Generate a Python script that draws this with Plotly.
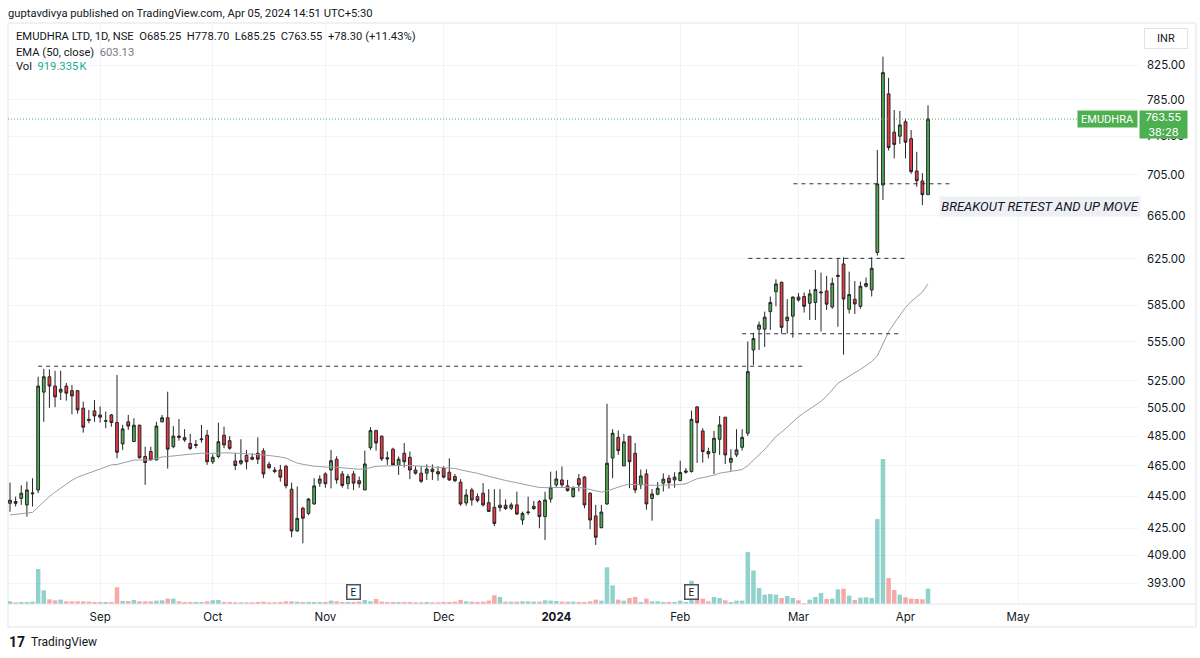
import math
import plotly.graph_objects as go

# ---------------- data ----------------
opens = [440.5, 441.6, 443.6, 439.5, 446.5, 449.0, 516.5, 528.0, 521.0, 516.5,
         521.0, 517.6, 517.6, 504.7, 496.8, 502.8, 499.9, 495.4, 499.9, 494.5,
         479.6, 495.0, 481.2, 492.6, 471.0, 474.4, 468.7, 495.0, 497.9, 477.7,
         485.0, 483.9, 479.9, 478.5, 482.5, 485.6, 467.5, 471.0, 485.6, 481.8,
         468.0, 466.5, 471.8, 470.5, 473.2, 474.8, 465.8, 462.0, 462.0, 464.5,
         449.5, 423.4, 437.4, 434.2, 440.1, 453.4, 459.4, 462.0, 469.2, 459.4,
         453.0, 459.4, 455.0, 449.0, 477.0, 488.8, 484.9, 470.2, 476.0, 465.0,
         473.2, 470.5, 462.0, 459.9, 459.9, 462.6, 460.9, 463.1, 460.5, 457.7,
         454.0, 440.7, 449.0, 444.7, 446.9, 440.9, 438.0, 437.8, 439.3, 437.4,
         439.5, 430.1, 434.6, 437.2, 441.6, 432.2, 443.2, 452.3, 455.5, 451.6,
         444.7, 456.3, 457.4, 446.9, 432.6, 425.4, 440.1, 470.0, 484.1, 464.7,
         484.9, 473.2, 452.3, 459.4, 443.6, 446.3, 453.4, 456.6, 455.5, 455.0,
         460.5, 461.0, 505.7, 488.6, 474.4, 473.7, 482.8, 498.3, 467.2, 472.1,
         477.3, 487.0, 548.6, 565.2, 565.2, 579.6, 596.4, 604.4, 572.2, 575.8,
         591.8, 592.3, 586.6, 587.2, 595.3, 597.0, 583.5, 609.5, 620.5, 581.6,
         589.9, 584.0, 601.0, 597.8, 630.8, 694.8, 791.6, 749.4, 745.1, 760.6,
         742.4, 708.9, 698.8, 685.25]
highs = [453.7, 444.7, 452.0, 454.4, 456.6, 528.0, 534.0, 533.6, 532.5, 532.5,
         523.3, 521.8, 518.1, 509.5, 503.5, 510.7, 506.0, 502.3, 500.6, 529.3,
         492.8, 499.9, 497.5, 493.0, 477.7, 477.7, 495.0, 499.9, 516.8, 492.0,
         497.0, 489.8, 486.5, 482.3, 492.8, 489.3, 472.5, 494.4, 491.6, 485.0,
         473.2, 482.8, 475.5, 473.2, 484.1, 476.6, 467.5, 464.0, 465.4, 465.4,
         453.7, 451.2, 438.3, 443.8, 456.6, 458.5, 460.5, 475.5, 471.2, 461.3,
         459.4, 461.3, 457.7, 475.0, 491.2, 489.5, 485.5, 474.4, 477.0, 471.0,
         480.2, 474.4, 464.5, 464.5, 465.7, 465.7, 464.5, 464.5, 469.8, 459.4,
         456.0, 449.5, 450.4, 446.8, 453.4, 449.5, 449.5, 449.5, 443.0, 441.0,
         447.9, 435.3, 444.7, 442.0, 442.6, 447.9, 460.9, 461.5, 464.3, 455.5,
         451.4, 459.4, 458.0, 447.5, 439.5, 439.5, 508.0, 489.8, 488.8, 486.5,
         485.0, 480.2, 462.3, 462.5, 449.5, 454.2, 459.8, 458.8, 460.5, 468.2,
         463.3, 503.0, 506.2, 490.5, 477.0, 488.6, 499.2, 498.3, 476.0, 489.8,
         489.8, 555.3, 562.2, 571.4, 579.6, 592.3, 607.0, 605.0, 590.0, 592.3,
         595.3, 595.7, 598.3, 615.2, 612.8, 610.0, 608.4, 625.6, 626.5, 613.7,
         605.5, 605.0, 608.5, 626.5, 730.5, 834.9, 810.0, 773.5, 772.5, 764.3,
         751.7, 728.6, 706.7, 778.7]
lows = [435.2, 438.5, 439.5, 432.2, 438.5, 447.0, 495.0, 505.0, 505.5, 510.7,
        510.2, 500.3, 500.8, 487.4, 494.0, 495.0, 494.5, 490.5, 491.6, 469.8,
        475.5, 489.3, 481.0, 469.6, 452.3, 468.5, 468.5, 494.5, 463.0, 476.6,
        481.8, 481.0, 475.5, 476.6, 480.5, 465.4, 466.0, 469.8, 476.6, 475.5,
        462.0, 465.4, 462.5, 468.5, 466.0, 456.6, 462.5, 459.8, 454.4, 450.0,
        419.6, 423.0, 416.0, 433.0, 439.5, 451.0, 450.4, 450.0, 453.0, 450.5,
        449.5, 449.0, 450.4, 449.0, 475.5, 475.0, 468.0, 465.4, 465.0, 458.8,
        463.7, 456.0, 459.0, 453.5, 455.5, 455.5, 455.0, 456.5, 454.8, 454.0,
        439.0, 439.0, 439.0, 441.0, 438.5, 435.0, 426.4, 435.4, 436.3, 436.3,
        433.2, 427.1, 433.2, 436.3, 425.0, 418.0, 440.9, 450.7, 450.4, 447.9,
        444.2, 448.0, 437.4, 424.5, 415.0, 425.0, 439.5, 456.6, 472.1, 464.7,
        450.1, 446.9, 449.5, 436.5, 429.7, 445.6, 448.0, 449.9, 450.4, 455.0,
        459.6, 460.3, 466.7, 466.9, 469.8, 459.4, 472.1, 466.0, 461.5, 470.7,
        475.0, 485.0, 537.0, 548.6, 551.0, 564.6, 584.0, 561.6, 561.6, 558.4,
        588.0, 578.8, 572.7, 572.7, 563.3, 581.0, 582.0, 567.2, 545.0, 578.0,
        577.6, 582.0, 600.0, 592.3, 628.0, 680.0, 730.0, 721.8, 737.0, 721.8,
        706.0, 693.0, 675.0, 685.25]
closes = [442.5, 440.5, 446.9, 449.0, 447.0, 521.0, 528.0, 521.0, 513.0, 518.6,
          515.7, 513.7, 503.5, 491.2, 496.0, 499.2, 498.3, 495.8, 494.5, 473.9,
          490.0, 492.0, 492.6, 470.2, 467.0, 468.7, 492.0, 497.9, 476.0, 485.0,
          484.1, 482.3, 476.5, 479.2, 483.0, 467.5, 470.5, 481.1, 478.9, 476.6,
          465.0, 468.2, 467.5, 469.2, 469.2, 459.4, 463.6, 461.0, 457.3, 451.7,
          423.4, 431.1, 431.2, 443.2, 451.6, 456.1, 453.0, 468.2, 455.5, 451.9,
          457.7, 453.4, 453.0, 466.0, 488.8, 480.2, 469.4, 469.4, 465.4, 469.2,
          467.5, 462.0, 459.9, 454.6, 462.6, 460.9, 459.4, 457.3, 455.5, 455.0,
          440.1, 445.8, 442.6, 442.2, 439.5, 435.4, 428.0, 439.3, 437.2, 439.5,
          433.8, 434.2, 435.0, 438.6, 432.2, 442.6, 450.7, 456.1, 452.3, 448.6,
          450.1, 452.3, 439.5, 430.1, 419.6, 435.0, 466.5, 487.0, 475.0, 481.0,
          467.5, 449.0, 458.1, 440.1, 446.4, 450.1, 456.0, 453.7, 457.3, 460.3,
          461.3, 496.8, 494.4, 474.4, 472.8, 483.5, 492.8, 472.1, 469.8, 475.5,
          484.1, 531.9, 557.6, 568.6, 575.0, 587.2, 603.0, 566.7, 575.0, 591.8,
          589.3, 584.0, 594.5, 598.3, 596.0, 585.8, 603.6, 610.5, 590.1, 593.9,
          586.0, 601.0, 603.3, 616.7, 695.8, 816.0, 733.0, 736.3, 757.2, 738.7,
          708.2, 699.0, 685.25, 763.55]
volumes_k = [160, 100, 120, 120, 140, 2090, 816, 280, 220, 260,
             160, 160, 160, 160, 140, 120, 120, 120, 120, 1000,
             180, 180, 240, 160, 160, 160, 200, 220, 320, 320,
             160, 120, 120, 120, 120, 160, 220, 240, 120, 120,
             100, 100, 100, 100, 120, 140, 100, 100, 120, 160,
             160, 140, 120, 120, 120, 120, 120, 200, 160, 120,
             120, 120, 140, 240, 160, 300, 140, 120, 120, 120,
             120, 120, 100, 100, 120, 100, 100, 120, 120, 140,
             240, 160, 140, 120, 140, 200, 520, 420, 140, 140,
             140, 160, 160, 140, 140, 220, 200, 180, 140, 140,
             140, 120, 120, 160, 260, 200, 2190, 1110, 260, 200,
             360, 420, 120, 320, 160, 160, 120, 120, 120, 200,
             120, 1390, 300, 320, 160, 420, 360, 220, 120, 200,
             200, 3100, 2000, 955, 560, 600, 560, 360, 480, 360,
             220, 60, 260, 420, 660, 300, 320, 875, 915, 500,
             240, 380, 400, 360, 5070, 8660, 1550, 836, 557, 400,
             320, 300, 280, 919.335]
ema50 = [433.2, 433.5, 433.9, 434.3, 434.8, 438.2, 441.6, 444.8, 447.6, 450.3,
         453.0, 455.3, 457.3, 458.6, 460.0, 461.5, 462.9, 464.2, 465.4, 465.7,
         466.6, 467.6, 468.6, 468.7, 468.7, 468.7, 469.6, 470.7, 471.0, 471.5,
         472.0, 472.4, 472.6, 472.9, 473.3, 473.1, 473.0, 473.3, 473.5, 473.6,
         473.3, 473.1, 472.9, 472.8, 472.7, 472.1, 471.7, 471.3, 470.7, 469.9,
         468.1, 466.6, 465.8, 465.0, 464.5, 464.3, 463.9, 464.1, 463.8, 463.3,
         463.1, 462.8, 462.5, 462.7, 463.7, 464.4, 464.6, 464.8, 464.9, 465.0,
         465.1, 465.0, 464.8, 464.4, 464.3, 464.2, 464.0, 463.7, 463.4, 463.0,
         462.1, 461.4, 460.6, 459.8, 458.8, 457.8, 456.7, 455.8, 455.1, 454.4,
         453.5, 452.7, 452.0, 451.3, 450.6, 450.3, 450.4, 450.6, 450.7, 450.6,
         450.6, 450.6, 450.1, 449.3, 448.1, 447.6, 448.3, 449.8, 450.8, 452.0,
         452.6, 452.5, 452.7, 452.2, 452.0, 451.9, 452.1, 452.1, 452.3, 452.6,
         453.0, 454.7, 456.3, 457.0, 457.6, 458.6, 459.9, 460.5, 460.8, 461.4,
         462.3, 464.9, 468.4, 472.0, 475.9, 480.1, 484.7, 487.8, 491.3, 495.2,
         498.5, 501.5, 504.3, 507.0, 509.7, 513.5, 518.3, 523.0, 525.8, 528.3,
         530.7, 533.6, 536.5, 539.5, 544.0, 553.0, 563.0, 570.0, 577.0, 583.0,
         588.0, 592.0, 596.0, 603.13]

month_labels = ["Sep", "Oct", "Nov", "Dec", "<b>2024</b>", "Feb", "Mar", "Apr", "May"]
month_first_bar = [16, 36, 56, 77, 97, 119, 140, 159, 179]
price_ticks = [393, 409, 425, 445, 465, 485, 505, 525, 555, 585, 625, 665, 705, 745, 785, 825]

# drawn horizontal levels: price, first bar, last bar
level_prices = [536.0, 561.5, 625.5, 696.0]
level_from = [5.0, 130.0, 131.1, 139.1]
level_to = [140.9, 158.1, 159.0, 166.9]
earnings_bars = [61, 121]
last_price = 763.55

# ---------------- geometry ----------------
PL, PR, PT, PB = 8, 1138, 23, 604
BAR_PX = 5.632
FIRST_PX = 10


def xp(px):
    return (px - PL) / (PR - PL)


def yp(py):
    return (PB - py) / (PB - PT)


k = (583 - 65) / math.log(825 / 393)


def price_at(py):
    return 825 * math.exp(-(py - 65) / k)


x_lo = (PL - FIRST_PX) / BAR_PX
x_hi = (PR - FIRST_PX) / BAR_PX
y_lo = math.log10(price_at(PB))
y_hi = math.log10(price_at(PT))
vol_max = 59.7e3 * (PB - PT)

TXT = "#131722"
UP, DN = "#4caf50", "#f23645"
FONT = "Roboto, sans-serif"
TICKFONT = "Inter, Roboto, sans-serif"

idx = list(range(len(closes)))
vol_colors = ["rgba(38,166,154,0.5)" if c >= o else "rgba(239,83,80,0.5)"
              for o, c in zip(opens, closes)]

fig = go.Figure()
fig.add_trace(go.Bar(x=idx, y=[v * 1000 for v in volumes_k], marker_color=vol_colors,
                     marker_line_width=0, width=0.8, yaxis="y", hoverinfo="skip"))
fig.add_trace(go.Scatter(x=idx, y=ema50, mode="lines", line=dict(color="#9c9ea8", width=1),
                         yaxis="y2", hoverinfo="skip"))
fig.add_trace(go.Candlestick(
    x=idx, open=opens, high=highs, low=lows, close=closes, yaxis="y2",
    increasing=dict(line=dict(color="#262626", width=1), fillcolor=UP),
    decreasing=dict(line=dict(color="#262626", width=1), fillcolor=DN),
    whiskerwidth=0, hoverinfo="skip"))
for p, a, b in zip(level_prices, level_from, level_to):
    fig.add_trace(go.Scatter(x=[a, b], y=[p, p], mode="lines", yaxis="y2",
                             line=dict(color="#2a2e39", width=1, dash="4px,4px"),
                             hoverinfo="skip"))
fig.add_trace(go.Scatter(x=[x_lo, (1078 - FIRST_PX) / BAR_PX], y=[last_price, last_price],
                         mode="lines", yaxis="y2",
                         line=dict(color=UP, width=1, dash="1px,2px"), hoverinfo="skip"))

ann = []


def note(text, x, y, size=12, color=TXT, xanchor="left", family=FONT, **kw):
    ann.append(dict(text=text, x=xp(x), y=yp(y), xref="paper", yref="paper",
                    xanchor=xanchor, yanchor="middle", showarrow=False,
                    font=dict(size=size, color=color, family=family), **kw))


note("guptavdivya published on TradingView.com, Apr 05, 2024 14:51 UTC+5:30", 6, 13, 11.2)
note("EMUDHRA LTD, 1D, NSE\u00a0\u00a0O685.25\u00a0\u00a0H778.70\u00a0\u00a0L685.25\u00a0\u00a0C763.55"
     "\u00a0\u00a0+78.30 (+11.43%)", 14, 37, 11.2)
note("EMA (50, close)\u00a0\u00a0<span style='color:#787b86'>603.13</span>", 14, 52, 11.2)
note("Vol\u00a0\u00a0<span style='color:#22ab94'>919.335\u202fK</span>", 14, 67, 11.2)
note("<i>BREAKOUT RETEST AND UP MOVE</i>", 1039.5, 206, 13, xanchor="center",
     bgcolor="#eef0f5", width=198, height=17)
note("EMUDHRA", 1107.5, 119, 11, color="white", xanchor="center", bgcolor=UP,
     width=57, height=14)
note("763.55<br>38:28", 1163.5, 124.5, 11, color="white", xanchor="center", bgcolor=UP,
     width=45, height=25, family=TICKFONT)
note("INR", 1165.5, 38, 11, xanchor="center", bordercolor="#e0e3eb", borderwidth=1,
     width=40, height=17, bgcolor="white")
note("<b>17</b>", 7, 642, 14, color=TXT)
note("TradingView", 29, 642, 12, color=TXT)
for b in earnings_bars:
    ann.append(dict(text="E", x=b, y=yp(592), xref="x", yref="paper", showarrow=False,
                    xanchor="center", yanchor="middle", bgcolor="white",
                    bordercolor="#50535e", borderwidth=1.5, width=10, height=11,
                    font=dict(size=10, color=TXT, family=FONT)))

shapes = [
    dict(type="rect", xref="paper", yref="paper", x0=xp(PL), x1=xp(1196), y0=yp(627), y1=yp(PT),
         line=dict(color="#e0e3eb", width=1), layer="below"),
    dict(type="line", xref="paper", yref="paper", x0=xp(PL), x1=xp(1196), y0=yp(PB), y1=yp(PB),
         line=dict(color="#e0e3eb", width=1)),
]

fig.update_layout(
    width=1200, height=658,
    margin=dict(l=PL, r=1200 - PR, t=PT, b=658 - PB),
    paper_bgcolor="white", plot_bgcolor="white",
    showlegend=False,
    font=dict(family=FONT, color=TXT, size=11),
    xaxis=dict(range=[x_lo, x_hi], tickmode="array", tickvals=month_first_bar,
               ticktext=month_labels, showgrid=True, gridcolor="#f2f3f6", zeroline=False,
               ticks="", showline=False, rangeslider=dict(visible=False),
               tickfont=dict(size=11.5, color=TXT, family=TICKFONT), ticklabelstandoff=4),
    yaxis=dict(range=[0, vol_max], visible=False, showgrid=False, fixedrange=True),
    yaxis2=dict(overlaying="y", side="right", type="log", range=[y_lo, y_hi],
                tickmode="array", tickvals=price_ticks,
                ticktext=[f"{t:.2f}" for t in price_ticks],
                showgrid=True, gridcolor="#f2f3f6", zeroline=False, ticks="",
                showline=False, tickfont=dict(size=11.5, color=TXT, family=TICKFONT),
                ticklabelstandoff=8),
    annotations=ann,
    shapes=shapes,
)

fig.write_html("out.html", config={"displayModeBar": False},
               post_script="document.body.style.margin='0px';document.body.style.overflow='hidden';")
